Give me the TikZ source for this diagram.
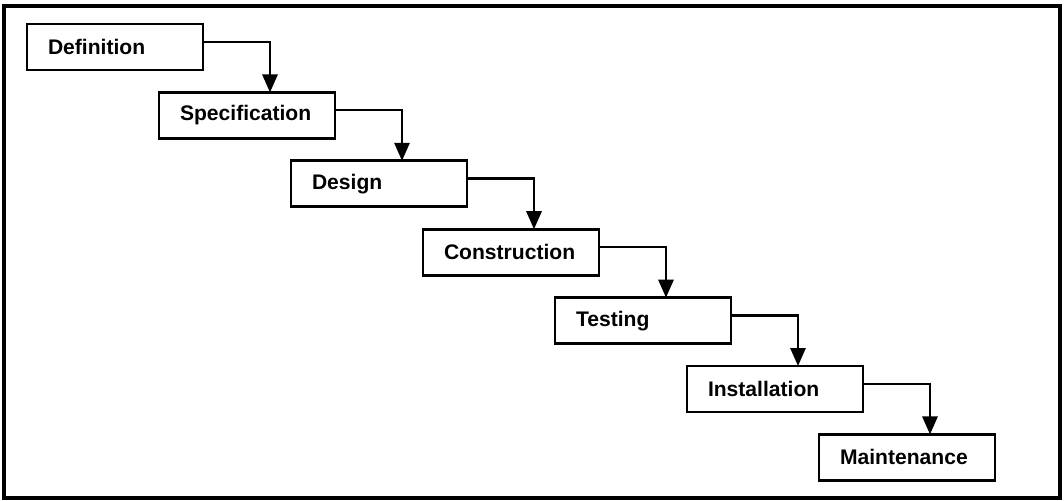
\documentclass[tikz,border=0pt]{standalone}
\usepackage{fontspec}
\setmainfont{Liberation Sans}
\usepackage{tikz}
\usetikzlibrary{positioning, arrows.meta}

\begin{document}
\begin{tikzpicture}[
    stagebox/.style={
        draw,
        line width=2pt,
        outer sep=0pt,
        align=left,
        text width=3.35cm,
        inner xsep=0.525cm,
        minimum height=1.15cm,
        font=\fontsize{15pt}{17pt}\selectfont\bfseries
    },
    arrow/.style={
        -{Triangle[length=0.45cm, width=0.38cm]},
        line width=1.7pt
    }
]

% Margins and outer frame
\useasboundingbox (0,0) rectangle (26.6,-12.525);
\draw[line width=2.2pt] (0.1,-0.15) rectangle (26.5,-12.45);

% Stages, stepping down to the right
\node[stagebox, anchor=north west] (definition) at (0.675,-0.6) {Definition};
\node[stagebox, below right=0.56cm and -1.1cm of definition] (specification) {Specification};
\node[stagebox, below right=0.56cm and -1.1cm of specification] (design) {Design};
\node[stagebox, below right=0.56cm and -1.1cm of design] (construction) {Construction};
\node[stagebox, below right=0.56cm and -1.1cm of construction] (testing) {Testing};
\node[stagebox, below right=0.56cm and -1.1cm of testing] (installation) {Installation};
\node[stagebox, below right=0.56cm and -1.1cm of installation] (maintenance) {Maintenance};

% Arrows
\draw[arrow] ([yshift=0.13cm]definition.east) -| ([xshift=0.575cm]specification.north);
\draw[arrow] ([yshift=0.13cm]specification.east) -| ([xshift=0.575cm]design.north);
\draw[arrow] ([yshift=0.13cm]design.east) -| ([xshift=0.575cm]construction.north);
\draw[arrow] ([yshift=0.13cm]construction.east) -| ([xshift=0.575cm]testing.north);
\draw[arrow] ([yshift=0.13cm]testing.east) -| ([xshift=0.575cm]installation.north);
\draw[arrow] ([yshift=0.13cm]installation.east) -| ([xshift=0.575cm]maintenance.north);

\end{tikzpicture}
\end{document}
